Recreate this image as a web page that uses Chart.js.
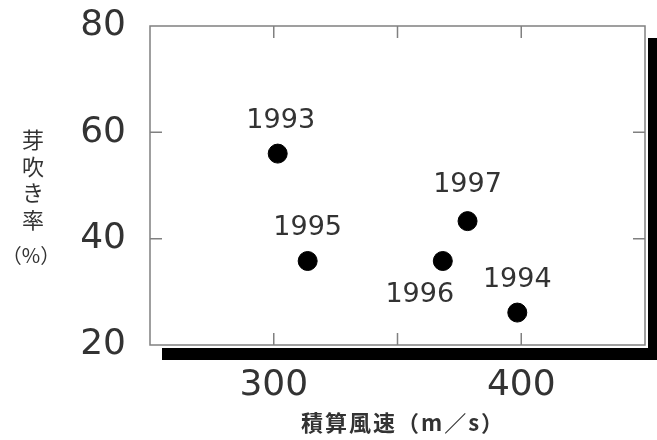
<!DOCTYPE html>
<html>
<head>
<meta charset="utf-8">
<script src="https://cdn.jsdelivr.net/npm/chart.js@4/dist/chart.umd.min.js"></script>
<style>
  html, body { margin: 0; padding: 0; background: #fff; }
  #wrap { width: 657px; height: 440px; }
</style>
</head>
<body>
<div id="wrap"><canvas id="scatterChart" width="657" height="440"></canvas></div>
<script>
// données
var annees = ['1993', '1995', '1996', '1997', '1994'];
var ventCumule = [301.6, 313.7, 368.3, 378.3, 398.4];   // 積算風速 (m/s)
var tauxBourgeon = [56.0, 35.8, 35.8, 43.3, 26.1];      // 芽吹き率 (%)
var xTickLabels = [300, 400];
var xTickMarks = [300, 350, 400];
var yTickLabels = [20, 40, 60, 80];
var yTickMarks = [40, 60];

var titreX = '積算風速（m／s）';
var titreY = ['芽', '吹', 'き', '率'];
var uniteY = '（%）';

// décalage des étiquettes d'année par rapport au point
var decalages = {
    '1993': [3, -33],
    '1995': [0, -33],
    '1996': [-23, 34],
    '1997': [0, -36],
    '1994': [0, -33]
};

var points = ventCumule.map(function (v, i) {
    return { x: v, y: tauxBourgeon[i] };
});

var couleurTexte = '#333';
var couleurCadre = '#808080';

// cadre, ombre, graduations internes et titres
var cadrePlugin = {
    id: 'cadre',
    beforeDraw: function (chart) {
        var ctx = chart.ctx;
        var a = chart.chartArea;
        ctx.save();
        ctx.fillStyle = '#fff';
        ctx.fillRect(0, 0, chart.width, chart.height);
        // ombre noire décalée
        ctx.fillStyle = '#000';
        ctx.fillRect(a.left + 12, a.top + 12, a.right - a.left + 3, a.bottom - a.top + 3);
        ctx.fillStyle = '#fff';
        ctx.fillRect(a.left, a.top, a.right - a.left + 3, a.bottom - a.top + 3);
        ctx.restore();
    },
    beforeDatasetsDraw: function (chart) {
        var ctx = chart.ctx;
        var a = chart.chartArea;
        var sx = chart.scales.x, sy = chart.scales.y;
        ctx.save();
        ctx.strokeStyle = couleurCadre;
        ctx.lineWidth = 1.5;
        ctx.strokeRect(a.left, a.top, a.right - a.left, a.bottom - a.top);
        ctx.beginPath();
        xTickMarks.forEach(function (v) {
            var px = sx.getPixelForValue(v);
            ctx.moveTo(px, a.top); ctx.lineTo(px, a.top + 12);
            ctx.moveTo(px, a.bottom); ctx.lineTo(px, a.bottom - 12);
        });
        yTickMarks.forEach(function (v) {
            var py = sy.getPixelForValue(v);
            ctx.moveTo(a.left, py); ctx.lineTo(a.left + 12, py);
            ctx.moveTo(a.right, py); ctx.lineTo(a.right - 12, py);
        });
        ctx.stroke();

        // titres des axes
        ctx.fillStyle = couleurTexte;
        ctx.textAlign = 'center';
        ctx.textBaseline = 'middle';
        ctx.font = 'bold 22px "Noto Sans CJK JP"';
        ctx.letterSpacing = '2px';
        ctx.fillText(titreX, 403, 423);
        ctx.letterSpacing = '0px';
        ctx.font = '22px "Noto Sans CJK JP"';
        titreY.forEach(function (c, i) {
            ctx.fillText(c, 33, 140 + i * 26.5);
        });
        ctx.font = '20px "Noto Sans CJK JP"';
        ctx.fillText(uniteY, 31, 255);
        ctx.restore();
    },
    afterDatasetsDraw: function (chart) {
        var ctx = chart.ctx;
        var meta = chart.getDatasetMeta(0);
        ctx.save();
        ctx.fillStyle = couleurTexte;
        ctx.font = '27px "DejaVu Sans"';
        ctx.textAlign = 'center';
        ctx.textBaseline = 'middle';
        meta.data.forEach(function (pt, i) {
            var d = decalages[annees[i]] || [0, -33];
            ctx.fillText(annees[i], pt.x + d[0], pt.y + d[1]);
        });
        ctx.restore();
    }
};

var ctx = document.getElementById('scatterChart').getContext('2d');
var scatterChart = new Chart(ctx, {
    type: 'scatter',
    data: {
        datasets: [{
            label: '芽吹き率',
            data: points,
            backgroundColor: '#000',
            borderColor: '#000',
            pointRadius: 9.5,
            pointHoverRadius: 9.5
        }]
    },
    options: {
        responsive: false,
        animation: false,
        layout: { padding: { top: 26, right: 12, left: 0, bottom: 0 } },
        plugins: {
            legend: { display: false },
            tooltip: { enabled: false }
        },
        scales: {
            x: {
                type: 'linear',
                min: 250,
                max: 450,
                grid: { display: false },
                border: { display: false },
                afterFit: function (scale) {
                    scale.height = 95;
                    scale.paddingLeft = 0;
                    scale.paddingRight = 0;
                },
                afterBuildTicks: function (scale) {
                    scale.ticks = xTickLabels.map(function (v) { return { value: v }; });
                },
                ticks: {
                    padding: 11,
                    color: couleurTexte,
                    font: { family: 'DejaVu Sans', size: 36 }
                }
            },
            y: {
                type: 'linear',
                min: 20,
                max: 80,
                grid: { display: false },
                border: { display: false },
                afterFit: function (scale) {
                    scale.width = 150;
                    scale.paddingTop = 0;
                    scale.paddingBottom = 0;
                },
                afterBuildTicks: function (scale) {
                    scale.ticks = yTickLabels.map(function (v) { return { value: v }; });
                },
                ticks: {
                    padding: 16,
                    color: couleurTexte,
                    font: { family: 'DejaVu Sans', size: 36 }
                }
            }
        }
    },
    plugins: [cadrePlugin]
});
</script>
</body>
</html>
